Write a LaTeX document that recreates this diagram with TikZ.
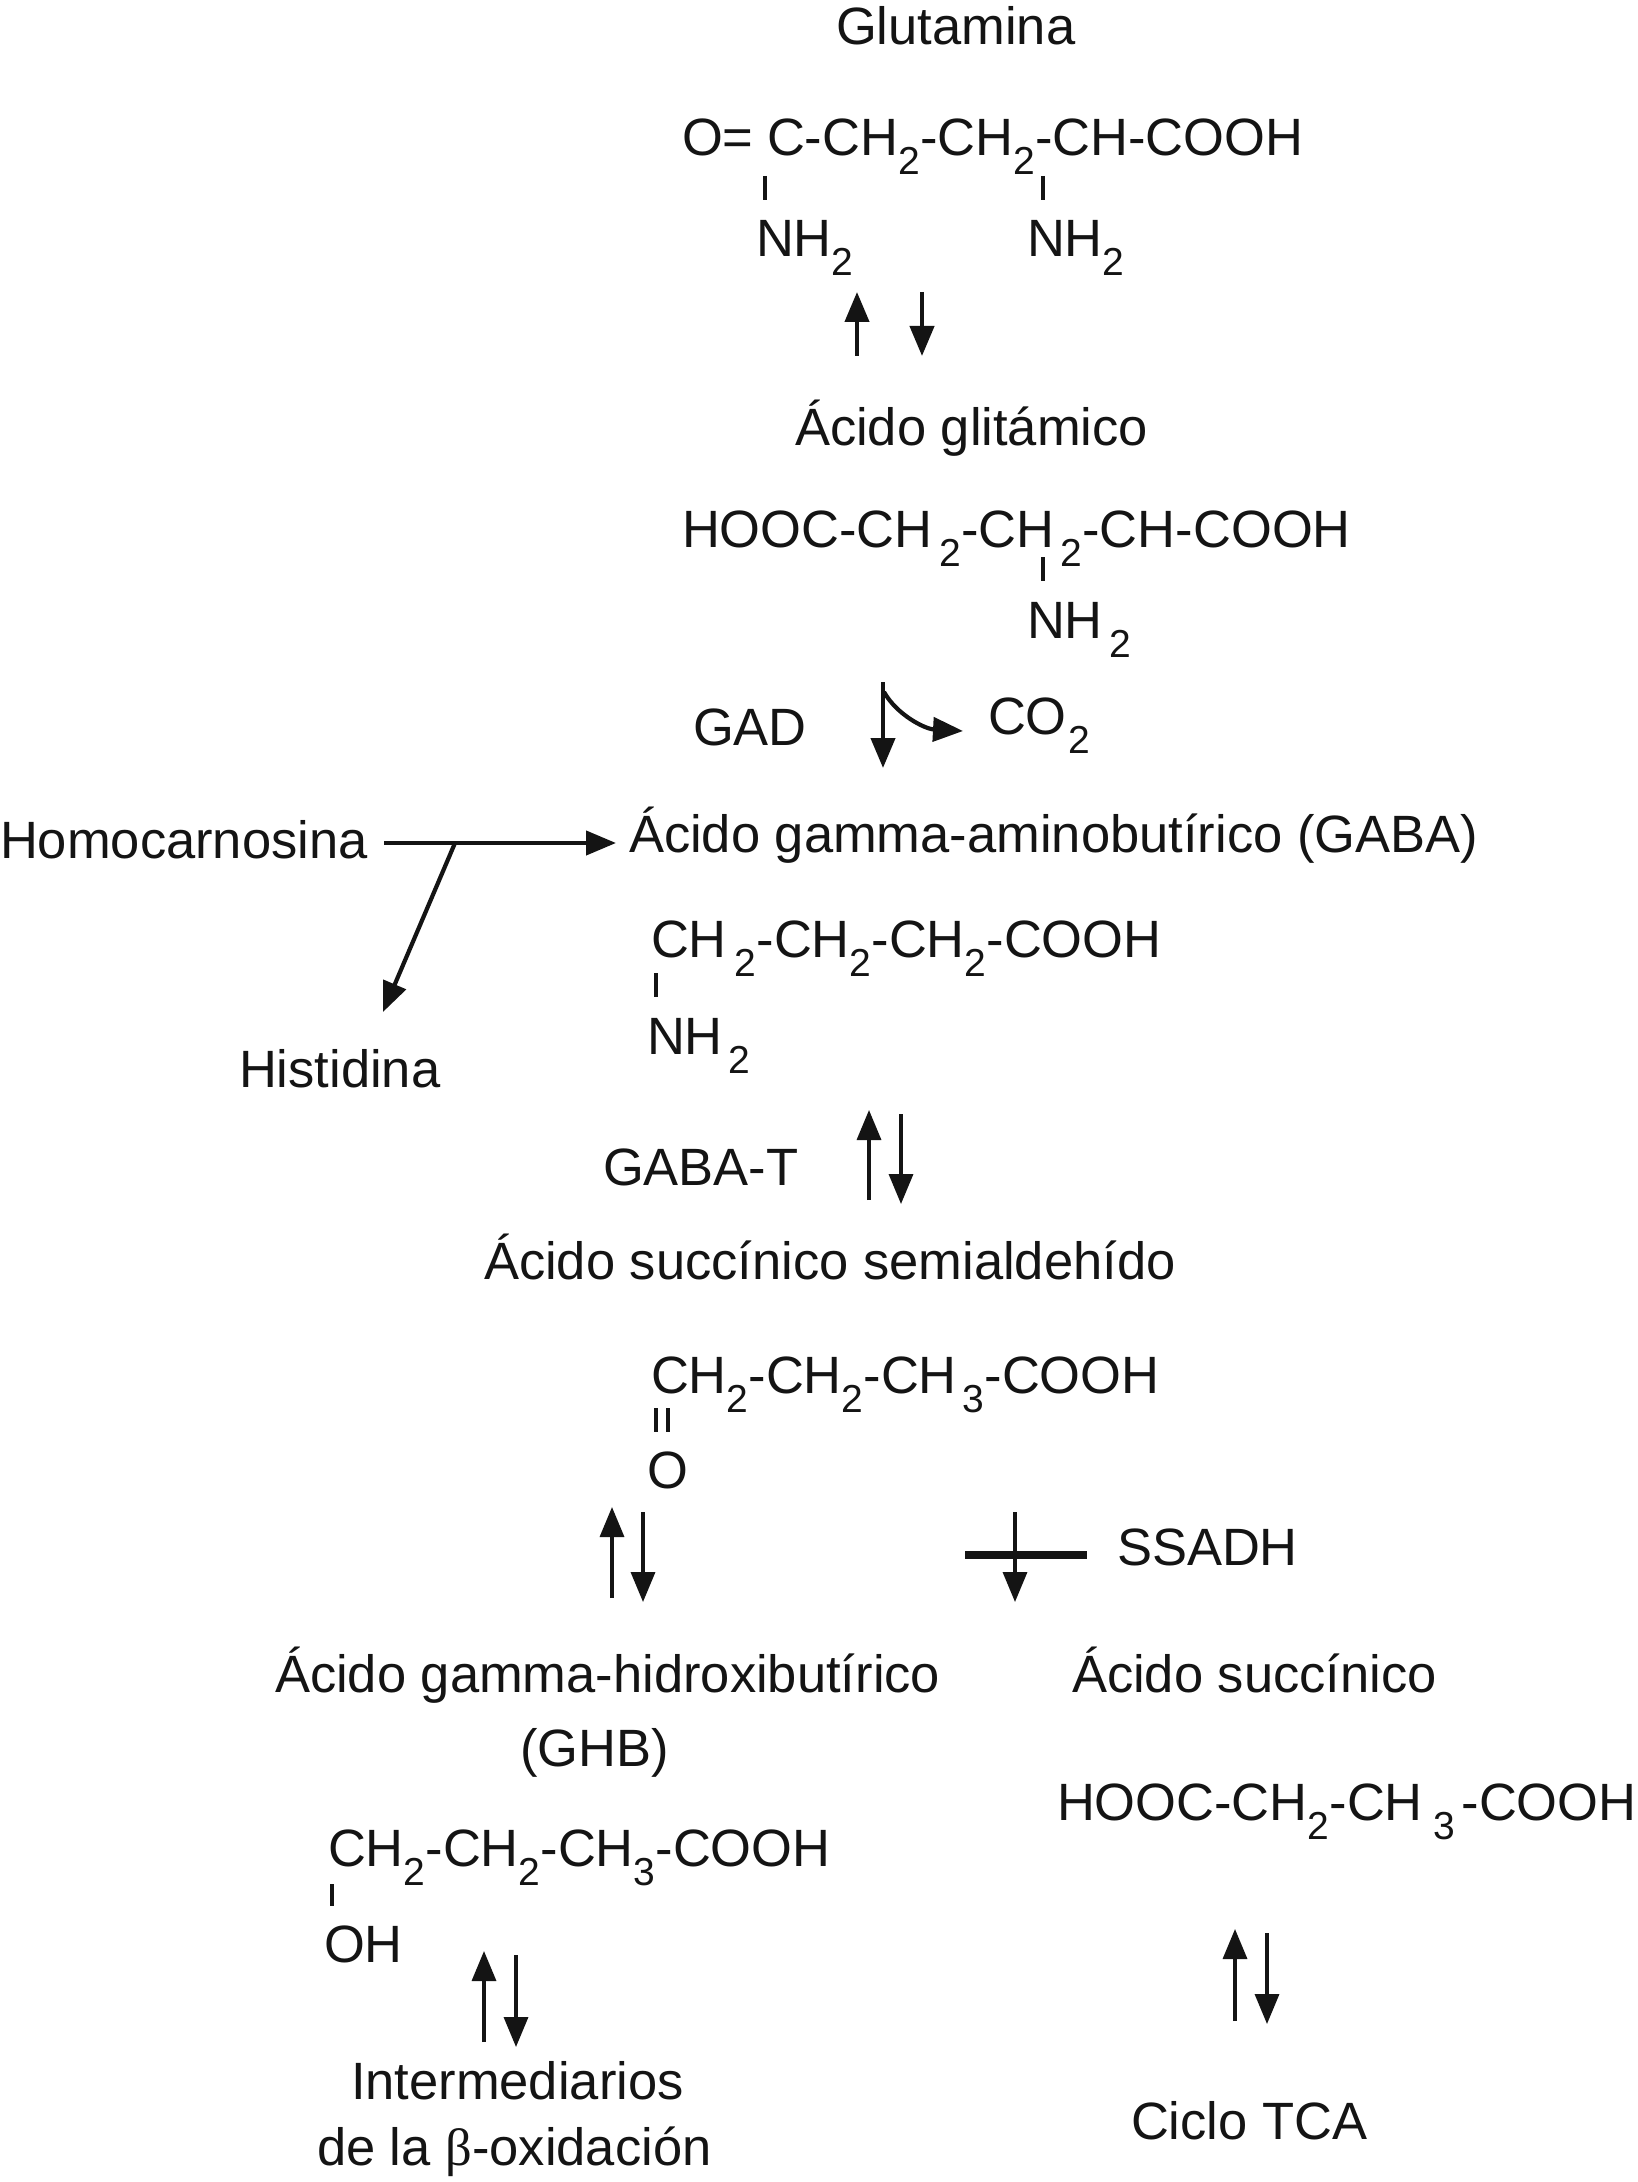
\documentclass[tikz,border=0pt]{standalone}
\usepackage{fontspec}
\setmainfont{Liberation Sans}
\newfontfamily\betafont{Liberation Serif}
\usetikzlibrary{arrows.meta}
\definecolor{ink}{HTML}{141414}
\newcommand{\sbs}[1]{\raisebox{-9.5pt}{\fontsize{19.5}{20}\selectfont #1}}
\tikzset{
  lab/.style={anchor=base west,inner sep=0pt,outer sep=0pt,xshift=-1pt,text=ink,font=\fontsize{26.25}{30}\selectfont},
  arr/.style={draw=ink,line width=2.1pt,-{Triangle[length=15pt,width=12pt]}},
  thinarr/.style={draw=ink,line width=1.7pt,-{Triangle[length=15pt,width=12pt]}},
  bond/.style={draw=ink,line width=2pt},
  bar/.style={draw=ink,line width=3.8pt}
}
\begin{document}
\begin{tikzpicture}[x=0.5pt,y=-0.5pt]
\useasboundingbox[fill=white] (0,0) rectangle (1637,2182);
% Glutamina
\node[lab] (glu) at (838,45) {Glutamina};
\node[lab] (f1) at (684,156) {O=\hspace{-0.5pt} C-CH\sbs{2}-CH\sbs{2}-CH-COOH};
\node[lab] (n1) at (758,257) {NH\sbs{2}};
\node[lab] (n2) at (1029,257) {NH\sbs{2}};
\coordinate (b1a) at (765,176); \coordinate (b1b) at (765,200);
\coordinate (b2a) at (1043,176); \coordinate (b2b) at (1043,200);
\draw[bond] (b1a) -- (b1b);
\draw[bond] (b2a) -- (b2b);
\coordinate (a1a) at (857,356); \coordinate (a1b) at (857,292);
\coordinate (a2a) at (922,292); \coordinate (a2b) at (922,356);
\draw[arr] (a1a) -- (a1b);
\draw[arr] (a2a) -- (a2b);
% Acido glitamico
\node[lab] (glit) at (797,446) {Ácido glitámico};
\node[lab] (f2) at (684,547) {HOOC-CH\hspace{3.5pt}\sbs{2}-CH\hspace{3pt}\sbs{2}-CH-COOH};
\node[lab] (n3) at (1029,638) {NH\hspace{3.5pt}\sbs{2}};
\coordinate (b3a) at (1043,557); \coordinate (b3b) at (1043,581);
\draw[bond] (b3a) -- (b3b);
% GAD
\node[lab] (gad) at (695,745) {GAD};
\node[lab] (co2) at (990,734) {CO\hspace{1pt}\sbs{2}};
\coordinate (a3a) at (883,682); \coordinate (a3b) at (883,768);
\coordinate (a3c) at (884,692); \coordinate (a3d) at (963,731);
\draw[arr] (a3a) -- (a3b);
\draw[arr] (a3c) .. controls (897,715) and (925,729) .. (a3d);
% GABA
\node[lab] (gaba) at (631,852) {Ácido gamma-aminobutírico (GABA)};
\node[lab] (homo) at (2,858) {Homocarnosina};
\node[lab] (his) at (241,1087) {Histidina};
\coordinate (a4a) at (384,843); \coordinate (a4b) at (616,843);
\coordinate (a5a) at (455,843); \coordinate (a5b) at (383,1012);
\draw[arr] (a4a) -- (a4b);
\draw[arr] (a5a) -- (a5b);
\node[lab] (f3) at (653,957) {CH\hspace{4pt}\sbs{2}-CH\sbs{2}-CH\sbs{2}-COOH};
\node[lab] (n4) at (649,1054) {NH\hspace{3pt}\sbs{2}};
\coordinate (b4a) at (656,973); \coordinate (b4b) at (656,997);
\draw[bond] (b4a) -- (b4b);
% GABA-T
\node[lab] (gabat) at (605,1185) {GABA-T};
\coordinate (a6a) at (869,1200); \coordinate (a6b) at (869,1110);
\coordinate (a7a) at (901,1114); \coordinate (a7b) at (901,1204);
\draw[thinarr] (a6a) -- (a6b);
\draw[thinarr] (a7a) -- (a7b);
% Semialdehido
\node[lab] (ssa) at (486,1279) {Ácido succínico semialdehído};
\node[lab] (f4) at (653,1393) {CH\sbs{2}-CH\sbs{2}-CH\hspace{3pt}\sbs{3}-COOH};
\coordinate (b5a) at (656,1408); \coordinate (b5b) at (656,1432);
\coordinate (b6a) at (668,1408); \coordinate (b6b) at (668,1432);
\draw[bond] (b5a) -- (b5b);
\draw[bond] (b6a) -- (b6b);
\node[lab] (o1) at (649,1488) {O};
\coordinate (a8a) at (612,1598); \coordinate (a8b) at (612,1507);
\coordinate (a9a) at (643,1512); \coordinate (a9b) at (643,1602);
\draw[thinarr] (a8a) -- (a8b);
\draw[thinarr] (a9a) -- (a9b);
\coordinate (a10a) at (1015,1512); \coordinate (a10b) at (1015,1602);
\draw[thinarr] (a10a) -- (a10b);
\coordinate (bara) at (965,1555); \coordinate (barb) at (1087,1555);
\draw[bar] (bara) -- (barb);
\node[lab] (ssadh) at (1119,1565) {SSADH};
% GHB
\node[lab] (ghb) at (277,1692) {Ácido gamma-hidroxibutírico};
\node[lab] (ghb2) at (522,1766) {(GHB)};
\node[lab] (f5) at (330,1866) {CH\sbs{2}-CH\sbs{2}-CH\sbs{3}-COOH};
\coordinate (b7a) at (332,1884); \coordinate (b7b) at (332,1906);
\draw[bond] (b7a) -- (b7b);
\node[lab] (oh) at (326,1962) {OH};
\coordinate (a11a) at (484,2042); \coordinate (a11b) at (484,1951);
\coordinate (a12a) at (516,1955); \coordinate (a12b) at (516,2047);
\draw[thinarr] (a11a) -- (a11b);
\draw[thinarr] (a12a) -- (a12b);
\node[lab] (im1) at (353,2099) {Intermediarios};
\node[lab] (im2) at (319,2165) {de la {\betafont β}-oxidación};
% Succinico
\node[lab] (suc) at (1074,1692) {Ácido succínico};
\node[lab] (f6) at (1059,1820) {HOOC-CH\sbs{2}-CH\hspace{5.5pt}\sbs{3}\hspace{3pt}-COOH};
\coordinate (a13a) at (1235,2021); \coordinate (a13b) at (1235,1929);
\coordinate (a14a) at (1267,1933); \coordinate (a14b) at (1267,2024);
\draw[thinarr] (a13a) -- (a13b);
\draw[thinarr] (a14a) -- (a14b);
\node[lab] (tca) at (1133,2139) {Ciclo TCA};
\end{tikzpicture}
\end{document}
